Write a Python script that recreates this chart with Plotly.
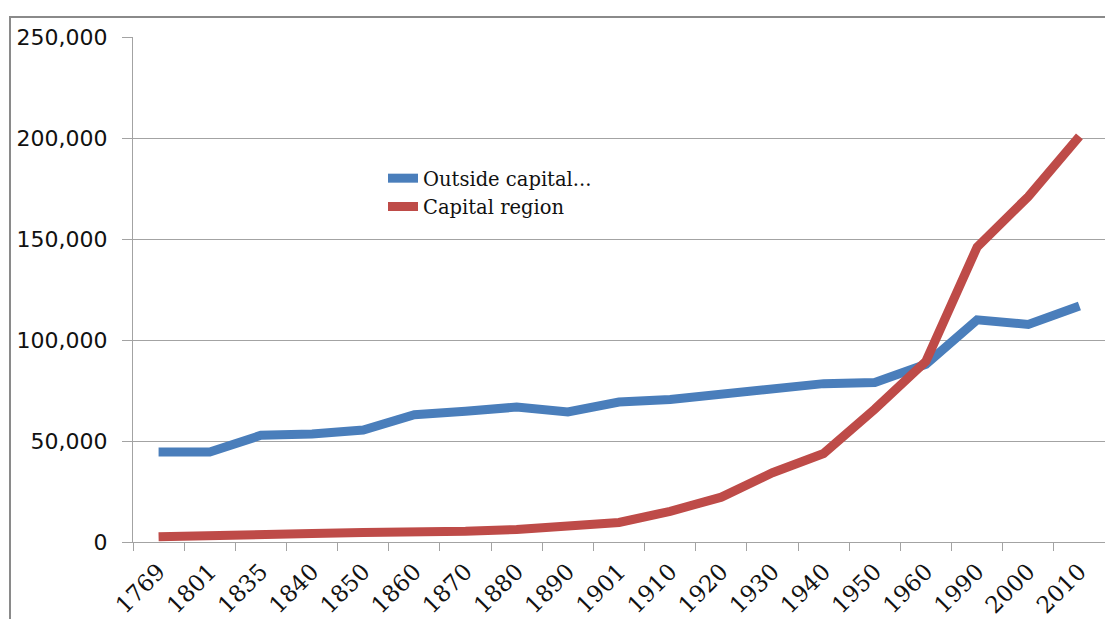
import plotly.graph_objects as go

years = ["1769", "1801", "1835", "1840", "1850", "1860", "1870", "1880", "1890",
         "1901", "1910", "1920", "1930", "1940", "1950", "1960", "1990", "2000", "2010"]
outside_capital = [44600, 44600, 52800, 53500, 55400, 63000, 64700, 66800, 64400,
                   69300, 70600, 73000, 75200, 78400, 79000, 88000, 110000, 107700, 116800]
capital_region = [2600, 3500, 4000, 4200, 4700, 4800, 5300, 6200, 7700,
                  9700, 15200, 22200, 34300, 43800, 65800, 89500, 146000, 171000, 200800]

y_ticks = [0, 50000, 100000, 150000, 200000, 250000]

W, H = 1105, 619
L, R, T, B = 133, 0, 37, 77
pw, ph = W - L - R, H - T - B

fig = go.Figure()
fig.add_trace(go.Scatter(x=years, y=outside_capital, mode="lines",
                         name="Outside capital...",
                         line=dict(color="#4A7EBB", width=9)))
fig.add_trace(go.Scatter(x=years, y=capital_region, mode="lines",
                         name="Capital region",
                         line=dict(color="#BE4B48", width=9)))

grid = "#a3a3a3"
fig.update_layout(
    width=W, height=H,
    margin=dict(l=L, r=R, t=T, b=B, pad=0),
    paper_bgcolor="white", plot_bgcolor="white",
    showlegend=True,
    legend=dict(x=(383 - L) / pw, y=(542 - 159) / ph, xanchor="left", yanchor="top",
                bgcolor="rgba(0,0,0,0)", tracegroupgap=0,
                font=dict(family="DejaVu Serif", size=19.5, color="#111")),
    xaxis=dict(type="category", range=[-0.5, len(years) - 0.5],
               tickson="boundaries", ticks="outside", ticklen=8, tickcolor=grid,
               showgrid=False, showline=True, linecolor=grid, linewidth=1,
               tickangle=-45, ticklabelstandoff=6,
               tickfont=dict(family="DejaVu Serif", size=23, color="#111")),
    yaxis=dict(range=[0, 250000], tickvals=y_ticks, tickformat=",",
               showgrid=True, gridcolor=grid, gridwidth=1,
               ticks="outside", ticklen=10, tickcolor=grid,
               showline=True, linecolor=grid, linewidth=1,
               zeroline=False, ticklabelstandoff=10,
               tickfont=dict(family="DejaVu Sans", size=22, color="#111")),
    shapes=[dict(type="rect", xref="paper", yref="paper",
                 x0=(10 - L) / pw, x1=1.05,
                 y0=-0.5, y1=(542 - 17) / ph,
                 line=dict(color="#8a8a8a", width=2), layer="below")],
)

fig.write_html("out.html")
